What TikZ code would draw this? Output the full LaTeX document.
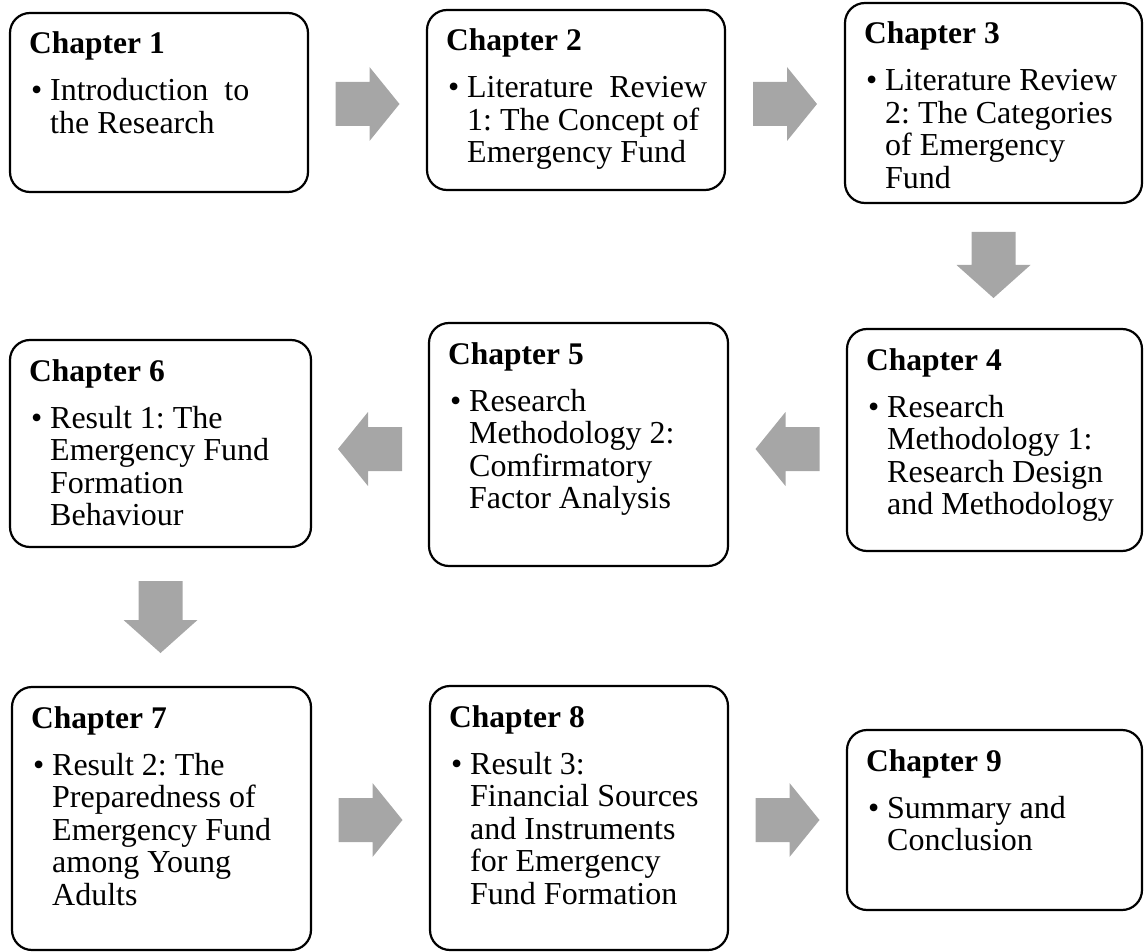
\documentclass[tikz,border=0pt]{standalone}
\usepackage{fontspec}
\setmainfont{Liberation Serif}
\usetikzlibrary{calc}
\definecolor{arrowgray}{HTML}{A6A6A6}
\frenchspacing
\newcommand\bulletlines[1]{\makebox[19pt][l]{\textbullet}\parbox[t]{260pt}{\raggedright #1}}
\tikzset{
  chapbox/.style={draw, line width=2.2pt, rounded corners=20pt, inner sep=0pt, outer sep=0pt},
  titletext/.style={anchor=base west, inner sep=0pt, font=\fontsize{31.5}{32.5}\selectfont\bfseries},
  bodytext/.style={anchor=base west, inner sep=0pt, font=\fontsize{32}{32.5}\selectfont\frenchspacing},
  % block arrow pointing right, centred on the pic origin
  harrow/.pic={\fill[arrowgray] (-32,-22) -- (2,-22) -- (2,-37) -- (32,0) -- (2,37) -- (2,22) -- (-32,22) -- cycle;},
  % block arrow pointing down; #1 is half its length
  varrow/.pic={\fill[arrowgray] (-22,-#1) -- (22,-#1) -- (22,{#1-33}) -- (37,{#1-33}) -- (0,#1) -- (-37,{#1-33}) -- (-22,{#1-33}) -- cycle;},
}
\begin{document}
\begin{tikzpicture}[x=1pt, y=-1pt]
\useasboundingbox (0,0) rectangle (1144,952);

% chapter boxes
\node[chapbox, minimum width=298pt, minimum height=179pt] (b1) at (159,102.5) {};
\node[chapbox, minimum width=298pt, minimum height=180pt] (b2) at (576,100) {};
\node[chapbox, minimum width=297pt, minimum height=200pt] (b3) at (993.5,103) {};
\node[chapbox, minimum width=295pt, minimum height=222pt] (b4) at (994.5,440) {};
\node[chapbox, minimum width=299pt, minimum height=243pt] (b5) at (578.5,444.5) {};
\node[chapbox, minimum width=301pt, minimum height=207pt] (b6) at (160.5,443.5) {};
\node[chapbox, minimum width=299pt, minimum height=263pt] (b7) at (161.5,818.5) {};
\node[chapbox, minimum width=298pt, minimum height=264pt] (b8) at (579,818) {};
\node[chapbox, minimum width=295pt, minimum height=180pt] (b9) at (994.5,820) {};

% titles and bullet texts
\node[titletext] (h1) at ($(b1.north west)+(19,41)$) {Chapter 1};
\node[bodytext]  (t1) at ($(b1.north west)+(21,88)$) {\bulletlines{Introduction\ \ to\\the Research}};
\node[titletext] (h2) at ($(b2.north west)+(19,41)$) {Chapter 2};
\node[bodytext]  (t2) at ($(b2.north west)+(21,88)$) {\bulletlines{Literature\ \ Review\\1: The Concept of\\Emergency Fund}};
\node[titletext] (h3) at ($(b3.north west)+(19,41)$) {Chapter 3};
\node[bodytext]  (t3) at ($(b3.north west)+(21,88)$) {\bulletlines{Literature Review\\2: The Categories\\of Emergency\\Fund}};
\node[titletext] (h4) at ($(b4.north west)+(19,41)$) {Chapter 4};
\node[bodytext]  (t4) at ($(b4.north west)+(21,88)$) {\bulletlines{Research\\Methodology 1:\\Research Design\\and Methodology}};
\node[titletext] (h5) at ($(b5.north west)+(19,41)$) {Chapter 5};
\node[bodytext]  (t5) at ($(b5.north west)+(21,88)$) {\bulletlines{Research\\Methodology 2:\\Comfirmatory\\Factor Analysis}};
\node[titletext] (h6) at ($(b6.north west)+(19,41)$) {Chapter 6};
\node[bodytext]  (t6) at ($(b6.north west)+(21,88)$) {\bulletlines{Result 1: The\\Emergency Fund\\Formation\\Behaviour}};
\node[titletext] (h7) at ($(b7.north west)+(19,41)$) {Chapter 7};
\node[bodytext]  (t7) at ($(b7.north west)+(21,88)$) {\bulletlines{Result 2: The\\Preparedness of\\Emergency Fund\\among Young\\Adults}};
\node[titletext] (h8) at ($(b8.north west)+(19,41)$) {Chapter 8};
\node[bodytext]  (t8) at ($(b8.north west)+(21,88)$) {\bulletlines{Result 3:\\Financial Sources\\and Instruments\\for Emergency\\Fund Formation}};
\node[titletext] (h9) at ($(b9.north west)+(19,41)$) {Chapter 9};
\node[bodytext]  (t9) at ($(b9.north west)+(21,88)$) {\bulletlines{Summary and\\Conclusion}};

% block arrows between the chapters
\coordinate (m12) at ($(b1.east)!0.5!(b2.west)$);
\coordinate (m23) at ($(b2.east)!0.5!(b3.west)$);
\coordinate (m45) at ($(b5.east)!0.5!(b4.west)$);
\coordinate (m56) at ($(b6.east)!0.5!(b5.west)$);
\coordinate (m78) at ($(b7.east)!0.5!(b8.west)$);
\coordinate (m89) at ($(b8.east)!0.5!(b9.west)$);
\coordinate (a12) at (m12 |- 0,104);
\coordinate (a23) at (m23 |- 0,104);
\coordinate (a34) at (b3 |- 0,265);
\coordinate (a45) at (m45 |- 0,449);
\coordinate (a56) at (m56 |- 0,449);
\coordinate (a67) at (b6 |- 0,617);
\coordinate (a78) at (m78 |- 0,820);
\coordinate (a89) at (m89 |- 0,820);
\pic at (a12) {harrow};
\pic at (a23) {harrow};
\pic at (a34) {varrow=33};
\pic[xscale=-1] at (a45) {harrow};
\pic[xscale=-1] at (a56) {harrow};
\pic at (a67) {varrow=36};
\pic at (a78) {harrow};
\pic at (a89) {harrow};
\end{tikzpicture}
\end{document}
